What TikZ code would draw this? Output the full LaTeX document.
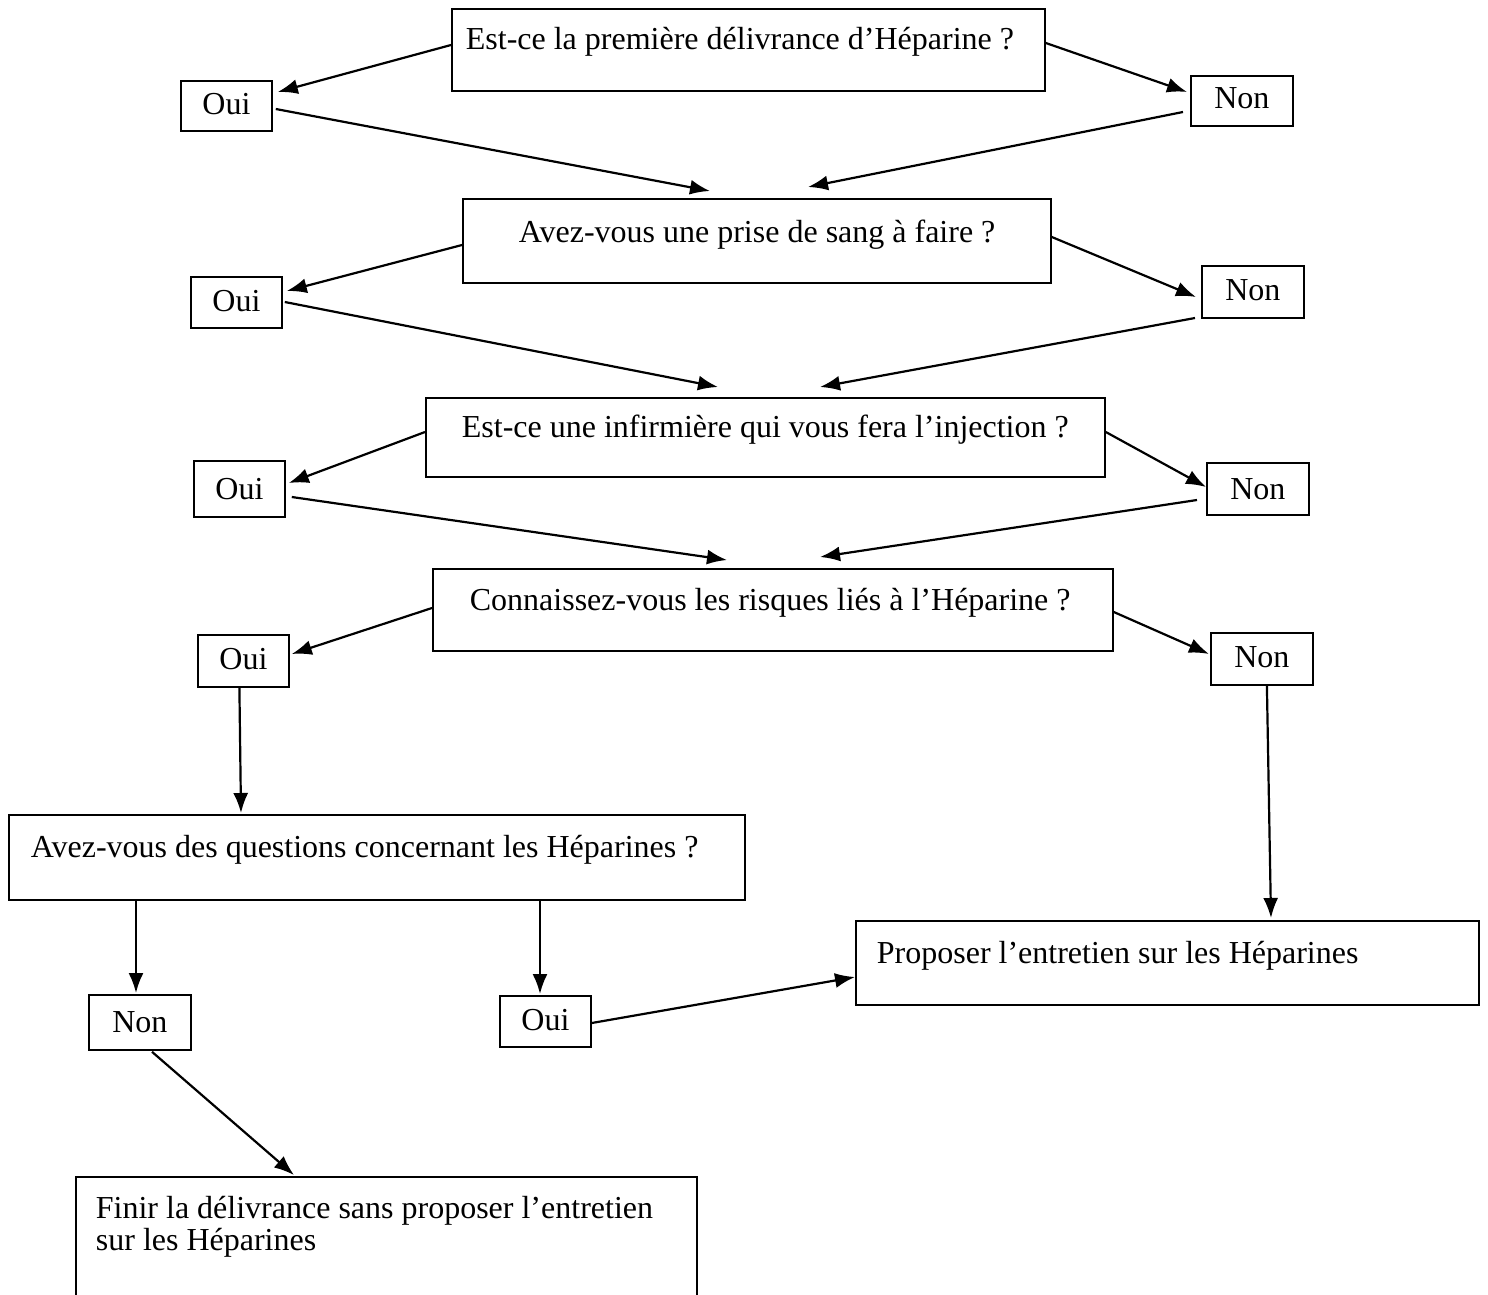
\documentclass[tikz,border=0pt]{standalone}
\usepackage{fontspec}
\setmainfont{Liberation Serif}
\usetikzlibrary{arrows.meta,calc}
\tikzset{
  bx/.style={draw=black, line width=1.8pt, anchor=north west, inner sep=0pt,
    font=\fontsize{32}{32}\selectfont},
  lbox/.style={bx, align=flush left},
  sbox/.style={bx, align=flush center},
  arr/.style={draw=black, line width=2.2pt, -{Latex[length=20pt,width=15pt]}},
}
\begin{document}
\begin{tikzpicture}[x=1pt,y=-1pt]
\useasboundingbox (0,0) rectangle (1488,1295);
\clip (0,0) rectangle (1488,1295);
% question boxes
\node[lbox, text width=593pt, text height=41pt, text depth=41pt] (q1) at (451,8) {\hspace*{14pt}Est-ce la première délivrance d’Héparine ?};
\node[lbox, text width=588pt, text height=44pt, text depth=40pt] (q2) at (462,198) {\hspace*{56pt}Avez-vous une prise de sang à faire ?};
\node[lbox, text width=679pt, text height=40pt, text depth=39pt] (q3) at (425,397) {\hspace*{36pt}Est-ce une infirmière qui vous fera l’injection ?};
\node[lbox, text width=680pt, text height=42pt, text depth=40pt] (q4) at (432,568) {\hspace*{37pt}Connaissez-vous les risques liés à l’Héparine ?};
\node[lbox, text width=736pt, text height=43pt, text depth=42pt] (q5) at (8,814) {\hspace*{22pt}Avez-vous des questions concernant les Héparines ?};
\node[lbox, text width=623pt, text height=43pt, text depth=41pt] (p) at (855,920) {\hspace*{21pt}Proposer l’entretien sur les Héparines};
\node[lbox, text width=621pt, text height=42pt, text depth=100pt] (f) at (75,1176) {\hspace*{20pt}Finir la délivrance sans proposer l’entretien\\\hspace*{20pt}sur les Héparines};
% answer boxes
\node[sbox, text width=91pt, text height=34pt, text depth=16pt] (oui1) at (180,80) {Oui};
\node[sbox, text width=102pt, text height=33pt, text depth=17pt] (non1) at (1190,75) {Non};
\node[sbox, text width=91pt, text height=35pt, text depth=16pt] (oui2) at (190,276) {Oui};
\node[sbox, text width=102pt, text height=35pt, text depth=17pt] (non2) at (1201,265) {Non};
\node[sbox, text width=91pt, text height=39pt, text depth=17pt] (oui3) at (193,460) {Oui};
\node[sbox, text width=102pt, text height=37pt, text depth=15pt] (non3) at (1206,462) {Non};
\node[sbox, text width=91pt, text height=35pt, text depth=17pt] (oui4) at (197,634) {Oui};
\node[sbox, text width=102pt, text height=35pt, text depth=17pt] (non4) at (1210,632) {Non};
\node[sbox, text width=102pt, text height=38pt, text depth=17pt] (non5) at (88,994) {Non};
\node[sbox, text width=91pt, text height=35pt, text depth=16pt] (oui5) at (499,995) {Oui};
% connectors
\draw[arr] ($(q1.north west)+(0,37)$) -- ($(oui1.north east)+(5,12)$);
\draw[arr] ($(q1.north east)+(0,35)$) -- ($(non1.north west)+(-3,17)$);
\draw[arr] ($(oui1.north east)+(3,29)$) -- ($(q2.north west)+(248,-7)$);
\draw[arr] ($(non1.north west)+(-7,37)$) -- ($(q2.north west)+(346,-11)$);
\draw[arr] ($(q2.north west)+(0,47)$) -- ($(oui2.north east)+(4,15)$);
\draw[arr] ($(q2.north east)+(0,39)$) -- ($(non2.north west)+(-5,32)$);
\draw[arr] ($(oui2.north east)+(2,26)$) -- ($(q3.north west)+(293,-10)$);
\draw[arr] ($(non2.north west)+(-6,53)$) -- ($(q3.north west)+(395,-10)$);
\draw[arr] ($(q3.north west)+(0,35)$) -- ($(oui3.north east)+(3,23)$);
\draw[arr] ($(q3.north east)+(0,35)$) -- ($(non3.north west)+(0,25)$);
\draw[arr] ($(oui3.north east)+(6,37)$) -- ($(q4.north west)+(295,-8)$);
\draw[arr] ($(non3.north west)+(-9,38)$) -- ($(q4.north west)+(388,-11)$);
\draw[arr] ($(q4.north west)+(0,40)$) -- ($(oui4.north east)+(2,20)$);
\draw[arr] ($(q4.north east)+(0,44)$) -- ($(non4.north west)+(-1,22)$);
\draw[arr] ($(oui4.south)+(-4,0)$) -- ($(q5.north west)+(233,-1)$);
\draw[arr] ($(non4.south)+(5,0)$) -- ($(p.north west)+(416,-2)$);
\draw[arr] ($(q5.south west)+(128,0)$) -- ($(non5.north west)+(48,-1)$);
\draw[arr] ($(q5.south west)+(532,0)$) -- ($(oui5.north west)+(41,-1)$);
\draw[arr] ($(oui5.north east)+(0,28)$) -- ($(p.north west)+(0,57)$);
\draw[arr] ($(non5.south west)+(64,1)$) -- ($(f.north west)+(219,-1)$);
\end{tikzpicture}
\end{document}
